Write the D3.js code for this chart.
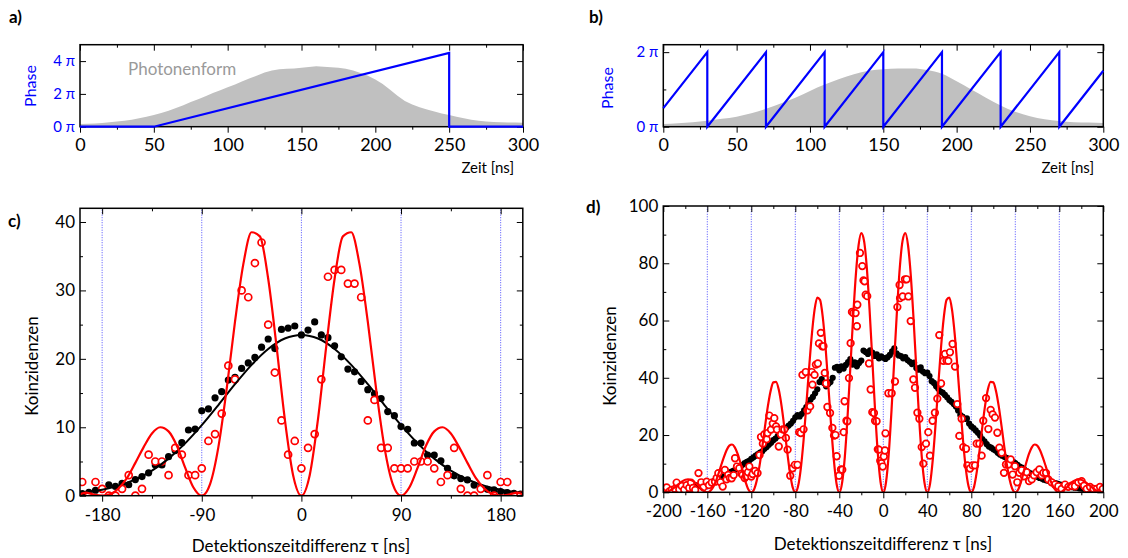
<!DOCTYPE html>
<html>
<head>
<meta charset="utf-8">
<script src="https://cdn.jsdelivr.net/npm/d3@7"></script>
<style>
  body { margin: 0; background: #fff; }
  svg text { font-family: Lato, "Open Sans", sans-serif; }
</style>
</head>
<body>
<div id="chart"></div>
<script>
const width = 1128;
const height = 558;

const red = '#ff0000';
const blue = '#0000ff';
const gray = '#c0c0c0';

// ---- data: panel a (photon shape + linear chirp)
const shapeATime = [0,5,10,15,20,25,30,35,40,45,50,55,60,65,70,75,80,85,90,95,100,105,110,115,120,125,130,135,140,145,150,155,160,165,170,175,180,185,190,195,200,205,210,215,220,225,230,235,240,245,250,255,260,265,270,275,280,285,290,295,300];
const shapeA = [0.16,0.18,0.2,0.23,0.27,0.31,0.37,0.43,0.51,0.6,0.72,0.84,0.98,1.14,1.31,1.5,1.68,1.86,2.05,2.22,2.4,2.58,2.77,2.95,3.12,3.3,3.43,3.5,3.53,3.55,3.6,3.64,3.69,3.66,3.63,3.6,3.53,3.42,3.28,3.1,2.88,2.6,2.26,1.88,1.56,1.35,1.19,1.05,0.92,0.81,0.72,0.61,0.51,0.43,0.37,0.32,0.29,0.27,0.25,0.25,0.24];
const phaseATime = [0, 50, 250, 250, 300];
const phaseA = [0, 0, 4.5, 0, 0];

// ---- data: panel b (photon shape + sawtooth phase)
const shapeBTime = [0,10,20,30,40,50,60,70,80,90,100,110,120,130,140,150,160,170,180,190,200,210,220,230,240,250,260,270,280,290,300];
const shapeB = [0.07,0.09,0.12,0.16,0.21,0.27,0.36,0.48,0.62,0.78,0.96,1.13,1.28,1.41,1.5,1.54,1.56,1.56,1.52,1.42,1.22,1.0,0.78,0.57,0.4,0.28,0.2,0.15,0.12,0.11,0.1];
const phaseBTime = [0,30,30,70,70,110,110,150,150,190,190,230,230,270,270,300];
const phaseB = [0.5,2,0,2,0,2,0,2,0,2,0,2,0,2,0,1.5];

// ---- data: panel c
const tauC = [-198,-192,-186,-180,-174,-168,-162,-156,-150,-144,-138,-132,-126,-120,-114,-108,-102,-96,-90,-84,-78,-72,-66,-60,-54,-48,-42,-36,-30,-24,-18,-12,-6,0,6,12,18,24,30,36,42,48,54,60,66,72,78,84,90,96,102,108,114,120,126,132,138,144,150,156,162,168,174,180,186,192,198];
const blackC = [0.3,0.5,0.8,1.0,1.6,1.35,1.8,1.6,2.35,2.8,3.35,4.5,4.5,5.7,6.6,7.75,9.6,9.75,12.4,12.7,14.3,15.2,16.9,17.3,18.6,19.4,20.2,21.7,22.9,21.5,24.3,24.5,24.8,23.5,24.2,25.4,23.5,23.1,21.9,20.3,18.5,18.1,16.7,15.5,14.9,14.2,12.3,11.7,10.1,9.7,7.7,7.7,5.95,5.95,5.1,4.0,2.9,2.5,2.3,1.56,1.2,0.93,0.84,0.6,0.44,0.34,0.24];
const redC = [2,0,2,1,0,0,1,3,0,1,6,5,5,3,7,6,3,3,4,8,9,12,19,17,30,29,34,37,25,18,11,6,8,4,7,9,17,32,33,33,31,31,29,11,14,7,7,4,4,4,5,5,5,4,2,3,7,1,0,0,1,3,0,2,2,0,0];
const fitCBlackTau = [-200,-195,-180,-165,-150,-135,-120,-105,-90,-75,-60,-45,-30,-15,0,15,30,45,60,75,90,105,120,135,150,165,180,195,200];
const fitCBlack = [0.4,0.49,0.87,1.47,2.38,3.67,5.42,7.65,10.3,13.25,16.29,19.12,21.44,22.97,23.5,22.97,21.44,19.12,16.29,13.25,10.3,7.65,5.42,3.67,2.38,1.47,0.87,0.49,0.4];
const fitCRedTau = [-200,-195,-187.5,-180,-172.5,-165,-157.5,-150,-142.5,-135,-127.5,-120,-112.5,-105,-97.5,-90,-82.5,-75,-67.5,-60,-52.5,-45,-37.5,-30,-22.5,-15,-7.5,0,7.5,15,22.5,30,37.5,45,52.5,60,67.5,75,82.5,90,97.5,105,112.5,120,127.5,135,142.5,150,157.5,165,172.5,180,187.5,195,200];
const fitCRed = [0.2,0.45,0.15,0,0.25,1.1,2.6,4.8,7.1,9.1,10.0,9.4,7.3,4.1,1.2,0,1.7,7.1,15.6,25.4,33.8,38.5,37.9,31.7,21.9,11.2,3.0,0,3.0,11.2,21.9,31.7,37.9,38.5,33.8,25.4,15.6,7.1,1.7,0,1.2,4.1,7.3,9.4,10.0,9.1,7.1,4.8,2.6,1.1,0.25,0,0.15,0.45,0.2];

// ---- data: panel d
const tauDBlack = [-200,-198,-196,-194,-192,-190,-188,-186,-184,-182,-180,-178,-176,-174,-172,-170,-168,-166,-164,-162,-160,-158,-156,-154,-152,-150,-148,-146,-144,-142,-140,-138,-136,-134,-132,-130,-128,-126,-124,-122,-120,-118,-116,-114,-112,-110,-108,-106,-104,-102,-100,-98,-96,-94,-92,-90,-88,-86,-84,-82,-80,-78,-76,-74,-72,-70,-68,-66,-64,-62,-60,-58,-56,-54,-52,-50,-48,-46,-44,-42,-40,-38,-36,-34,-32,-30,-28,-26,-24,-22,-20,-18,-16,-14,-12,-10,-8,-6,-4,-2,0,2,4,6,8,10,12,14,16,18,20,22,24,26,28,30,32,34,36,38,40,42,44,46,48,50,52,54,56,58,60,62,64,66,68,70,72,74,76,78,80,82,84,86,88,90,92,94,96,98,100,102,104,106,108,110,112,114,116,118,120,122,124,126,128,130,132,134,136,138,140,142,144,146,148,150,152,154,156,158,160,162,164,166,168,170,172,174,176,178,180,182,184,186,188,190,192,194,196,198,200];
const blackD = [0.8,1.0,0.7,1.1,0.9,1.2,1.0,1.4,1.1,1.5,1.3,1.7,1.5,2.0,1.8,2.4,2.2,2.7,2.5,3.0,3.2,3.0,3.6,3.9,4.2,4.6,5.0,5.3,5.9,6.3,6.6,7.2,7.6,8.0,8.6,8.9,9.6,10.2,10.6,11.0,11.7,12.2,12.8,13.3,13.9,14.3,15.2,15.8,16.6,17.3,18.2,18.8,19.6,20.4,21.0,21.9,22.6,23.3,24.0,25.0,26.2,27.0,26.5,27.4,28.6,29.8,31.0,32.4,33.3,34.6,36.0,38.5,39.5,38.2,37.0,37.8,38.5,40.0,43.5,43.8,42.6,44.0,43.2,44.5,45.5,46.5,44.6,45.4,44.0,45.2,46.0,49.5,49.0,48.3,49.6,48.8,47.6,48.2,46.8,47.5,47.0,46.6,47.2,48.0,49.2,50.3,48.5,47.8,47.6,46.8,47.2,46.2,45.6,44.8,45.3,43.4,42.8,43.6,42.2,41.6,41.8,40.6,38.8,38.2,37.0,36.2,35.2,34.8,34.0,33.2,32.2,31.6,30.8,30.0,28.6,27.0,26.4,25.6,25.8,24.0,23.0,22.4,21.6,20.8,19.8,18.6,17.8,16.8,16.0,15.6,15.0,14.6,13.8,13.2,12.8,12.4,12.0,11.4,11.0,10.6,10.2,9.6,9.0,8.6,8.0,7.4,7.0,6.6,6.2,5.8,5.4,5.0,4.8,4.4,4.2,4.0,3.8,3.4,3.2,3.0,2.8,2.6,2.4,2.2,2.0,1.9,1.8,1.6,1.6,1.4,1.3,1.2,1.2,1.0,1.0,0.9,0.9,0.8,0.8,0.7,0.7];
const tauDRed = [-199.5,-196.9,-194.5,-192.4,-189.5,-187.9,-185.5,-183.3,-181,-178.8,-176.5,-174.8,-173,-171,-168,-165.5,-163.6,-160.6,-158.5,-156,-153,-151.5,-150,-148,-146,-144,-142.5,-141,-139.5,-137.8,-136,-134.8,-133,-130.9,-129,-127.9,-126,-124.8,-123,-121.8,-120,-118.8,-116.5,-114.3,-112.5,-111.2,-109.5,-108.2,-106,-105.2,-103.6,-102.1,-100.5,-99.1,-97.5,-96.7,-95,-93,-91.5,-90,-88.5,-87,-84.6,-82.5,-80.4,-78,-76.5,-75,-73.5,-72.5,-70.5,-68.9,-66.5,-65,-64.4,-62.5,-61.3,-59.5,-58.5,-56.8,-55.5,-54.4,-53.2,-52,-50.8,-48.4,-46.3,-44.8,-43.5,-42.4,-40.3,-38.5,-37.3,-36,-35.2,-33.5,-32.7,-31.2,-29.7,-28.5,-27.3,-25.2,-24,-23.6,-21.2,-19.1,-18,-17,-16,-14.6,-13,-11.5,-10,-8.5,-7.5,-6.1,-5,-4,-2.8,-1.8,-0.5,0.5,1.5,2,4.6,7.6,10.6,12.8,14.8,15.2,17.6,19.7,21.2,22.8,24.9,27.3,28.8,31,32.8,34.9,36.4,38.8,40.9,42.4,44.8,46.9,49.1,50.9,52.5,54.6,56.1,57.5,59.1,60.6,63,65.2,67.3,69.1,71.2,72.7,75.2,76.4,78.8,81.2,83.4,84.9,87.3,89.4,90.9,93.4,95.5,97.6,99.4,101.5,103.7,105.5,107.6,109.7,111.5,113.7,115.8,117.6,119.7,121.8,123.7,125.8,127.9,130.3,132.5,134.9,137,139.4,141.9,144,145.5,147.9,150,153,156,159.1,162.1,165.2,168.2,171.2,174.2,177.3,180.3,182.5,184.9,187.9,191,194,197,199.5];
const redD = [1.5,1.7,0.3,0.8,1.2,3.4,1.0,2.2,0.9,2.5,1.5,3.4,1.5,0.8,6.7,3.5,1.7,3.7,2.5,3.4,3.7,5.0,6.7,3.5,2.0,7.8,4.5,6.1,5.0,4.9,6.0,11.9,9.0,8.4,6.5,6.1,5.0,5.5,7.0,9.0,5.5,6.4,7.5,6.7,13.0,19.3,17.0,20.2,18.5,20.7,26.8,21.9,24.0,25.9,23.0,21.9,16.0,20.2,22.0,21.9,19.0,14.9,5.8,8.4,9.6,9.6,21.0,20.7,41.0,22.0,42.0,28.6,30.0,42.0,37.6,41.0,44.6,45.0,52.0,55.7,51.0,51.0,41.7,38.0,29.8,27.7,22.5,19.8,20.0,12.6,5.8,8.0,7.9,21.0,31.8,25.0,24.8,39.9,52.1,63.0,62.6,62.6,58.0,65.5,83.6,79.0,74.0,73.7,69.0,68.5,45.0,35.9,28.0,27.7,25.0,24.8,15.0,14.9,11.0,10.2,9.0,12.5,14.6,20.6,34.6,34.6,38.7,64.7,72.4,67.8,68.4,74.4,74.4,68.4,59.8,39.4,36.5,27.8,25.7,15.8,10.0,17.0,21.0,12.8,25.0,27.8,32.7,54.9,38.0,45.9,48.3,46.0,45.9,48.9,51.8,43.9,30.8,19.7,25.7,15.8,15.2,9.4,8.3,9.4,9.4,17.0,17.0,12.8,25.0,32.9,22.1,28.8,27.2,26.1,20.8,15.6,13.8,6.8,9.7,9.7,11.5,6.2,9.1,3.5,6.8,7.7,5.6,7.0,3.9,4.5,5.9,7.0,8.0,5.9,6.8,6.8,4.5,3.5,2.7,2.1,1.2,2.7,1.9,2.3,2.1,3.5,3.9,2.3,1.2,1.9,1.2,1.2,1.9,1.2];
const fitDTau = [-200,-197.5,-195,-192.5,-190,-187.5,-185,-182.5,-180,-177.5,-175,-172.5,-170,-167.5,-165,-162.5,-160,-157.5,-155,-152.5,-150,-147.5,-145,-142.5,-140,-137.5,-135,-132.5,-130,-127.5,-125,-122.5,-120,-117.5,-115,-112.5,-110,-107.5,-105,-102.5,-100,-97.5,-95,-92.5,-90,-87.5,-85,-82.5,-80,-77.5,-75,-72.5,-70,-67.5,-65,-62.5,-60,-57.5,-55,-52.5,-50,-47.5,-45,-42.5,-40,-37.5,-35,-32.5,-30,-27.5,-25,-22.5,-20,-17.5,-15,-12.5,-10,-7.5,-5,-2.5,0,2.5,5,7.5,10,12.5,15,17.5,20,22.5,25,27.5,30,32.5,35,37.5,40,42.5,45,47.5,50,52.5,55,57.5,60,62.5,65,67.5,70,72.5,75,77.5,80,82.5,85,87.5,90,92.5,95,97.5,100,102.5,105,107.5,110,112.5,115,117.5,120,122.5,125,127.5,130,132.5,135,137.5,140,142.5,145,147.5,150,152.5,155,157.5,160,162.5,165,167.5,170,172.5,175,177.5,180,182.5,185,187.5,190,192.5,195,197.5,200];
const fitDRed = [0,0.1,0.4,0.9,1.6,2.4,3.2,3.9,4.4,4.5,4.3,3.8,3.0,2.0,1.0,0.3,0,0.4,1.6,3.6,6.3,9.3,12.2,14.7,16.3,16.7,15.7,13.5,10.4,6.8,3.4,0.9,0,1.0,4.2,9.3,15.9,23.1,29.9,35.3,38.4,38.6,35.8,30.2,22.8,14.6,7.2,1.9,0,2.1,8.3,18.1,30.3,43.2,54.9,63.7,68.0,67.2,61.1,50.7,37.5,23.7,11.5,3.0,0,3.2,12.3,26.4,43.3,60.6,75.7,86.2,90.5,87.8,78.5,63.9,46.5,28.8,13.7,3.6,0,3.6,13.7,28.8,46.5,63.9,78.5,87.8,90.5,86.2,75.7,60.6,43.3,26.4,12.3,3.2,0,3.0,11.5,23.7,37.5,50.7,61.1,67.2,68.0,63.7,54.9,43.2,30.3,18.1,8.3,2.1,0,1.9,7.2,14.6,22.8,30.2,35.8,38.6,38.4,35.3,29.9,23.1,15.9,9.3,4.2,1.0,0,0.9,3.4,6.8,10.4,13.5,15.7,16.7,16.3,14.7,12.2,9.3,6.3,3.6,1.6,0.4,0,0.3,1.0,2.0,3.0,3.8,4.3,4.5,4.4,3.9,3.2,2.4,1.6,0.9,0.4,0.1,0];

// ---- ticks
const timeMajor = [0, 50, 100, 150, 200, 250, 300];
const timeMinor = [25, 75, 125, 175, 225, 275];
const tauCMajor = [-180, -90, 0, 90, 180];
const tauCMinor = [-135, -45, 45, 135];
const tauDMajor = [-200, -160, -120, -80, -40, 0, 40, 80, 120, 160, 200];
const tauDMinor = [-180, -140, -100, -60, -20, 20, 60, 100, 140, 180];
const gridC = [-180, -90, 0, 90, 180];
const gridD = [-160, -120, -80, -40, 0, 40, 80, 120, 160];

const svg = d3.select('#chart').append('svg')
  .attr('width', width).attr('height', height);
const defs = svg.append('defs');

// scales
const xA = d3.scaleLinear().domain([0, 300]).range([80, 523]);
const yA = d3.scaleLinear().domain([0, 5]).range([126.7, 44.7]);
const xB = d3.scaleLinear().domain([0, 300]).range([663.3, 1103.3]);
const yB = d3.scaleLinear().domain([0, 2.2]).range([126.7, 44.7]);
const xC = d3.scaleLinear().domain([-200, 200]).range([80, 522.8]);
const yC = d3.scaleLinear().domain([0, 42]).range([495.7, 208.3]);
const xD = d3.scaleLinear().domain([-200, 200]).range([663.3, 1103.3]);
const yD = d3.scaleLinear().domain([0, 100]).range([492.3, 206]);

function clipFor(id, x, y) {
  const [x0, x1] = x.range();
  const [y0, y1] = y.range();
  defs.append('clipPath').attr('id', id).append('rect')
    .attr('x', x0).attr('y', y1).attr('width', x1 - x0).attr('height', y0 - y1);
  return `url(#${id})`;
}

function drawAxes(x, y, cfg) {
  const [x0, x1] = x.range();
  const [y0, y1] = y.range();
  const g = svg.append('g');
  const fmt = (d) => String(d);

  // bottom, ticks outward
  g.append('g').attr('transform', `translate(0,${y0})`)
    .call(d3.axisBottom(x).tickValues(cfg.xMinor).tickSize(3).tickFormat(''));
  g.append('g').attr('transform', `translate(0,${y0})`)
    .call(d3.axisBottom(x).tickValues(cfg.xMajor).tickSize(6).tickPadding(cfg.xPad).tickFormat(fmt))
    .selectAll('text').style('font-size', cfg.xFont + 'px').attr('fill', '#000');

  // top, ticks inward
  g.append('g').attr('transform', `translate(0,${y1})`)
    .call(d3.axisTop(x).tickValues(cfg.xMinor).tickSize(-3).tickFormat(''));
  g.append('g').attr('transform', `translate(0,${y1})`)
    .call(d3.axisTop(x).tickValues(cfg.xMajor).tickSize(-6).tickFormat(''));

  // left, ticks inward
  g.append('g').attr('transform', `translate(${x0},0)`)
    .call(d3.axisLeft(y).tickValues(cfg.yMinor).tickSize(-3).tickFormat(''));
  g.append('g').attr('transform', `translate(${x0},0)`)
    .call(d3.axisLeft(y).tickValues(cfg.yMajor).tickSize(-6).tickPadding(5).tickFormat(cfg.yFormat))
    .selectAll('text').style('font-size', cfg.yFont + 'px').attr('fill', cfg.yColor);

  // right, ticks inward
  g.append('g').attr('transform', `translate(${x1},0)`)
    .call(d3.axisRight(y).tickValues(cfg.yMinor).tickSize(-3).tickFormat(''));
  g.append('g').attr('transform', `translate(${x1},0)`)
    .call(d3.axisRight(y).tickValues(cfg.yMajor).tickSize(-6).tickFormat(''));

  g.selectAll('.domain').remove();
  g.selectAll('.tick line').attr('stroke', '#000').attr('stroke-width', 1);

  g.append('rect')
    .attr('x', x0).attr('y', y1)
    .attr('width', x1 - x0).attr('height', y0 - y1)
    .attr('fill', 'none').attr('stroke', '#000').attr('stroke-width', 1.5);
}

function addText(txt, x, y, opts) {
  const t = svg.append('text').attr('x', x).attr('y', y).text(txt)
    .style('font-size', (opts.size || 16) + 'px')
    .attr('fill', opts.color || '#000')
    .attr('text-anchor', opts.anchor || 'start');
  if (opts.bold) t.style('font-weight', 'bold');
  return t;
}

function addVText(txt, cx, cy, opts) {
  svg.append('text')
    .attr('transform', `translate(${cx},${cy}) rotate(-90)`)
    .attr('text-anchor', 'middle').attr('dy', '0.35em')
    .style('font-size', (opts.size || 16) + 'px')
    .attr('fill', opts.color || '#000')
    .text(txt);
}

const piFormat = (d) => d + ' \u03c0';

// ================= panel a
const clipA = clipFor('clipA', xA, yA);
svg.append('path')
  .datum(shapeATime.map((t, i) => [t, shapeA[i]]))
  .attr('clip-path', clipA)
  .attr('fill', gray)
  .attr('d', d3.area().x((d) => xA(d[0])).y0(yA(0)).y1((d) => yA(d[1])));

drawAxes(xA, yA, {
  xMajor: timeMajor, xMinor: timeMinor, xPad: 6, xFont: 18,
  yMajor: [0, 2, 4], yMinor: [], yFormat: piFormat, yFont: 15, yColor: blue,
});

svg.append('path')
  .datum(phaseATime.map((t, i) => [t, phaseA[i]]))
  .attr('fill', 'none').attr('stroke', blue).attr('stroke-width', 2.2)
  .attr('d', d3.line().x((d) => xA(d[0])).y((d) => yA(d[1])));

addText('Photonenform', 128, 75, { size: 17, color: '#9a9a9a' });
addVText('Phase', 30, 86, { size: 16, color: blue });
addText('Zeit [ns]', 514, 173, { size: 15, anchor: 'end' });
addText('a)', 9, 23, { size: 17, bold: true });

// ================= panel b
const clipB = clipFor('clipB', xB, yB);
svg.append('path')
  .datum(shapeBTime.map((t, i) => [t, shapeB[i]]))
  .attr('clip-path', clipB)
  .attr('fill', gray)
  .attr('d', d3.area().x((d) => xB(d[0])).y0(yB(0)).y1((d) => yB(d[1])).curve(d3.curveMonotoneX));

drawAxes(xB, yB, {
  xMajor: timeMajor, xMinor: timeMinor, xPad: 6, xFont: 18,
  yMajor: [0, 2], yMinor: [1], yFormat: piFormat, yFont: 15, yColor: blue,
});

svg.append('path')
  .datum(phaseBTime.map((t, i) => [t, phaseB[i]]))
  .attr('fill', 'none').attr('stroke', blue).attr('stroke-width', 2.2)
  .attr('d', d3.line().x((d) => xB(d[0])).y((d) => yB(d[1])));

addVText('Phase', 607, 88, { size: 16, color: blue });
addText('Zeit [ns]', 1094, 173, { size: 15, anchor: 'end' });
addText('b)', 589, 23, { size: 17, bold: true });

// ================= panel c
const clipC = clipFor('clipC', xC, yC);
const gC = svg.append('g').attr('clip-path', clipC);

gC.selectAll('.grid').data(gridC).enter().append('line')
  .attr('x1', (d) => xC(d)).attr('x2', (d) => xC(d))
  .attr('y1', yC.range()[0]).attr('y2', yC.range()[1])
  .attr('stroke', '#4d4dff').attr('stroke-width', 1).attr('stroke-dasharray', '1,1.5');

gC.selectAll('.blk').data(tauC).enter().append('circle')
  .attr('cx', (d) => xC(d)).attr('cy', (d, i) => yC(blackC[i]))
  .attr('r', 3.6).attr('fill', '#000');

gC.selectAll('.red').data(tauC).enter().append('circle')
  .attr('cx', (d) => xC(d)).attr('cy', (d, i) => yC(redC[i]))
  .attr('r', 3.5).attr('fill', '#fff').attr('stroke', red).attr('stroke-width', 1.7);

gC.append('path')
  .datum(fitCBlackTau.map((t, i) => [t, fitCBlack[i]]))
  .attr('fill', 'none').attr('stroke', '#000').attr('stroke-width', 2)
  .attr('d', d3.line().x((d) => xC(d[0])).y((d) => yC(d[1])).curve(d3.curveMonotoneX));

gC.append('path')
  .datum(fitCRedTau.map((t, i) => [t, fitCRed[i]]))
  .attr('fill', 'none').attr('stroke', red).attr('stroke-width', 2.2)
  .attr('d', d3.line().x((d) => xC(d[0])).y((d) => yC(d[1])).curve(d3.curveMonotoneX));

drawAxes(xC, yC, {
  xMajor: tauCMajor, xMinor: tauCMinor, xPad: 7, xFont: 17,
  yMajor: [0, 10, 20, 30, 40], yMinor: [5, 15, 25, 35], yFormat: (d) => String(d), yFont: 17, yColor: '#000',
});

addVText('Koinzidenzen', 32, 366, { size: 17 });
addText('Detektionszeitdifferenz \u03c4 [ns]', 301, 552, { size: 17, anchor: 'middle' });
addText('c)', 8, 227, { size: 17, bold: true });

// ================= panel d
const clipD = clipFor('clipD', xD, yD);
const gD = svg.append('g').attr('clip-path', clipD);

gD.selectAll('.grid').data(gridD).enter().append('line')
  .attr('x1', (d) => xD(d)).attr('x2', (d) => xD(d))
  .attr('y1', yD.range()[0]).attr('y2', yD.range()[1])
  .attr('stroke', '#4d4dff').attr('stroke-width', 1).attr('stroke-dasharray', '1,1.5');

gD.selectAll('.blk').data(tauDBlack).enter().append('circle')
  .attr('cx', (d) => xD(d)).attr('cy', (d, i) => yD(blackD[i]))
  .attr('r', 3.1).attr('fill', '#000');

gD.selectAll('.red').data(tauDRed).enter().append('circle')
  .attr('cx', (d) => xD(d)).attr('cy', (d, i) => yD(redD[i]))
  .attr('r', 3.3).attr('fill', '#fff').attr('stroke', red).attr('stroke-width', 1.7);

gD.append('path')
  .datum(fitDTau.map((t, i) => [t, fitDRed[i]]))
  .attr('fill', 'none').attr('stroke', red).attr('stroke-width', 2.2)
  .attr('d', d3.line().x((d) => xD(d[0])).y((d) => yD(d[1])).curve(d3.curveMonotoneX));

drawAxes(xD, yD, {
  xMajor: tauDMajor, xMinor: tauDMinor, xPad: 7, xFont: 17,
  yMajor: [0, 20, 40, 60, 80, 100], yMinor: [10, 30, 50, 70, 90], yFormat: (d) => String(d), yFont: 17, yColor: '#000',
});

addVText('Koinzidenzen', 610, 356, { size: 17 });
addText('Detektionszeitdifferenz \u03c4 [ns]', 883, 550, { size: 17, anchor: 'middle' });
addText('d)', 586, 213, { size: 17, bold: true });
</script>
</body>
</html>
